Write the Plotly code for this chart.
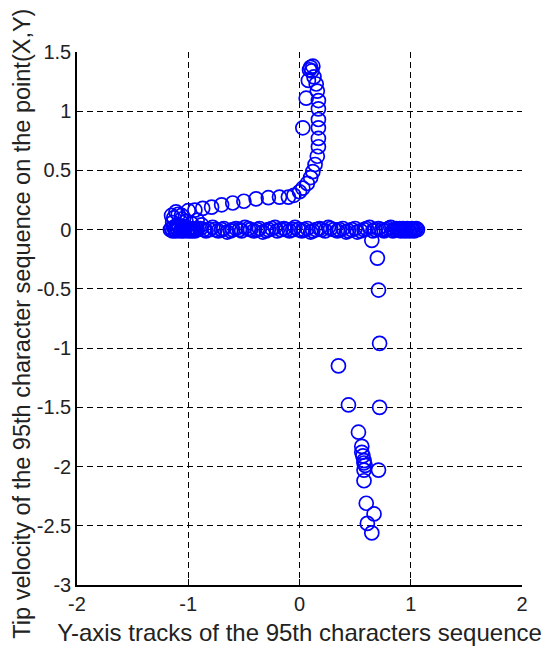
import plotly.graph_objects as go

# ---- Data ----
# Dense trace along y = 0 : left end, middle, right end
zero_left_x = [-1.16, -1.15, -1.14, -1.13, -1.12, -1.11, -1.10, -1.09, -1.08, -1.07,
               -1.06, -1.05, -1.04, -1.03, -1.02, -1.01, -1.00, -0.99, -0.98, -0.97,
               -0.96, -0.95, -0.94, -0.93, -0.92]
zero_left_y = [0.00, 0.01, -0.01, 0.02, 0.00, -0.01, 0.01, 0.00, 0.02, -0.01,
               0.00, 0.01, -0.01, 0.00, 0.02, 0.00, -0.01, 0.01, 0.00, -0.01,
               0.01, 0.00, -0.01, 0.01, 0.00]

zero_mid_x = [-0.89, -0.86, -0.84, -0.81, -0.78, -0.76, -0.73, -0.70, -0.68, -0.65,
              -0.62, -0.60, -0.57, -0.54, -0.52, -0.49, -0.46, -0.44, -0.41, -0.38,
              -0.36, -0.33, -0.30, -0.28, -0.25, -0.22, -0.20, -0.17, -0.14, -0.12,
              -0.09, -0.06, -0.04, -0.01, 0.02, 0.04, 0.07, 0.10, 0.12, 0.15,
              0.18, 0.20, 0.23, 0.26, 0.28, 0.31, 0.34, 0.36, 0.39, 0.42,
              0.44, 0.47, 0.50, 0.52, 0.55, 0.58, 0.60, 0.63, 0.66, 0.68,
              0.71, 0.74, 0.76, 0.78, 0.80, 0.82, 0.84, 0.85, 0.87, 0.88]
zero_mid_y = [0.01, 0.00, -0.01, 0.00, 0.02, 0.00, -0.01, 0.00, 0.01, -0.02,
              -0.01, 0.00, 0.01, 0.00, -0.01, 0.02, 0.01, 0.00, -0.01, 0.00,
              0.01, -0.02, -0.01, 0.00, 0.01, 0.02, -0.01, 0.00, 0.01, 0.00,
              -0.01, 0.00, 0.02, 0.00, -0.01, 0.00, 0.01, -0.02, -0.01, 0.00,
              0.01, 0.00, -0.01, 0.02, 0.01, 0.00, -0.01, 0.00, 0.01, -0.02,
              -0.01, 0.00, 0.01, -0.02, -0.01, 0.00, 0.01, 0.02, -0.01, 0.00,
              0.01, 0.00, -0.01, 0.00, 0.01, 0.02, -0.01, 0.00, 0.01, 0.00]

zero_right_x = [0.89, 0.90, 0.91, 0.92, 0.93, 0.94, 0.95, 0.96, 0.97, 0.98,
                0.99, 1.00, 1.01, 1.02, 1.03, 1.04, 1.05, 1.06]
zero_right_y = [0.00, 0.01, -0.01, 0.00, 0.01, 0.00, -0.01, 0.00, 0.01, 0.00,
                -0.01, 0.00, 0.01, 0.00, -0.01, 0.00, 0.01, 0.00]

# Upper curved branch (plus the blob at its left end)
curve_x = [-1.15, -1.11, -1.06, -1.00, -0.94, -0.87, -0.79, -0.70, -0.60, -0.50, -0.39, -0.28,
           -0.18, -0.10, -0.05, 0.00, 0.03, 0.07, 0.10, 0.12, 0.14, 0.16, 0.17, 0.17, 0.17,
           0.17, 0.17, 0.17, 0.16, 0.15, 0.13, 0.11, 0.10, 0.12, 0.09, 0.03, 0.06, 0.08,
           -1.14, -1.10, -1.06, -1.02, -0.97, -0.92, -0.88, -1.13, -1.09, -1.05]
curve_y = [0.12, 0.15, 0.12, 0.16, 0.165, 0.18, 0.19, 0.21, 0.225, 0.24, 0.26, 0.27,
           0.275, 0.275, 0.29, 0.32, 0.35, 0.39, 0.44, 0.49, 0.55, 0.62, 0.70, 0.77, 0.86,
           0.93, 1.02, 1.09, 1.17, 1.23, 1.29, 1.34, 1.37, 1.38, 1.35, 0.86, 1.11, 1.26,
           0.06, 0.04, 0.09, 0.07, 0.05, 0.08, 0.04, 0.10, 0.13, 0.03]

# Descending scattered branch
down_x = [0.65, 0.70, 0.71, 0.72, 0.35, 0.44, 0.72, 0.53, 0.56, 0.56, 0.57, 0.58, 0.58,
          0.59, 0.58, 0.71, 0.58, 0.60, 0.67, 0.61, 0.65]
down_y = [-0.09, -0.24, -0.51, -0.96, -1.15, -1.48, -1.50, -1.71, -1.83, -1.88, -1.91, -1.95,
          -1.97, -1.99, -2.03, -2.03, -2.12, -2.31, -2.40, -2.48, -2.56]

x_all = zero_left_x + zero_mid_x + zero_right_x + curve_x + down_x
y_all = zero_left_y + zero_mid_y + zero_right_y + curve_y + down_y

x_ticks = [-2, -1, 0, 1, 2]
y_ticks = [1.5, 1, 0.5, 0, -0.5, -1, -1.5, -2, -2.5, -3]
y_tick_text = ["1.5", "1", "0.5", "0", "-0.5", "-1", "-1.5", "-2", "-2.5", "-3"]

x_title = "Y-axis tracks of the 95th characters sequence"
y_title = "Tip velocity of the 95th character sequence on the point(X,Y)"

FONT = "Arial, Liberation Sans, sans-serif"

fig = go.Figure()
fig.add_trace(go.Scatter(
    x=x_all, y=y_all, mode="markers",
    marker=dict(symbol="circle-open", size=14, color="#0000ff",
                line=dict(width=1.7, color="#0000ff")),
    showlegend=False, hoverinfo="skip",
))

axis_common = dict(
    showgrid=True, gridcolor="black", griddash="6px,4px", gridwidth=1,
    showline=True, linecolor="black", linewidth=1.5, mirror=False,
    ticks="inside", ticklen=6, tickcolor="black", zeroline=False,
    tickfont=dict(size=20, color="#222222"),
    automargin=False,
)

fig.update_layout(
    width=546, height=655,
    margin=dict(l=77, r=24, t=52, b=70),
    paper_bgcolor="white", plot_bgcolor="white",
    font=dict(family=FONT, size=20, color="#222222"),
    xaxis=dict(
        range=[-2, 2], tickvals=x_ticks, ticktext=[str(v) for v in x_ticks],
        title=dict(text=x_title, standoff=10, font=dict(size=24)),
        **axis_common,
    ),
    yaxis=dict(
        range=[-3, 1.5], tickvals=y_ticks, ticktext=y_tick_text,
        **axis_common,
    ),
    annotations=[dict(
        text=y_title, textangle=-90, showarrow=False,
        xref="paper", yref="paper", x=-0.124, y=0.49,
        xanchor="center", yanchor="middle",
        font=dict(family=FONT, size=23.5, color="#222222"),
    )],
)

fig.write_html("out.html", config={"displayModeBar": False},
               post_script="document.body.style.margin='0px';")
